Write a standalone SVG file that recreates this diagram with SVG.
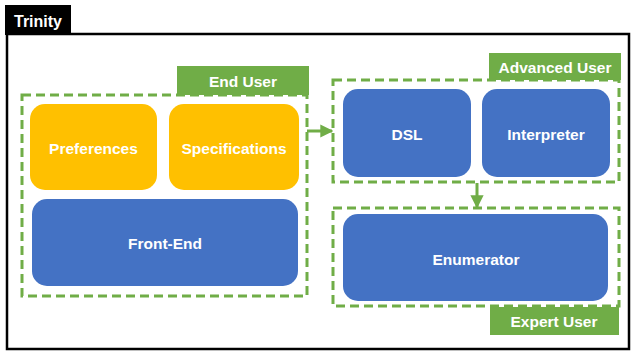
<svg xmlns="http://www.w3.org/2000/svg" width="631" height="352" viewBox="0 0 631 352">
<style>
.t{font-family:"Liberation Sans",Arial,sans-serif;font-weight:bold;fill:#fff;text-anchor:middle;dominant-baseline:central;font-size:15.5px}
.grp{fill:none;stroke:#70AD47;stroke-width:3;stroke-dasharray:9 5}
.lbl{fill:#70AD47}
.y{fill:#FFC000}
.b{fill:#4472C4}
.con{stroke:#70AD47;stroke-width:3;fill:none}
</style>
<defs>
<marker id="ah" markerWidth="4.4" markerHeight="4.4" refX="3.9" refY="2.2" orient="auto" markerUnits="strokeWidth">
<path d="M0,0 L4.4,2.2 L0,4.4 Z" fill="#70AD47"/>
</marker>
</defs>
<rect width="631" height="352" fill="#fff"/>
<g id="frame">
<rect x="7" y="34" width="622" height="315" fill="none" stroke="#000" stroke-width="2.5"/>
<rect x="5" y="5" width="66" height="30" fill="#000"/>
<text class="t" x="38" y="21" style="font-size:16px">Trinity</text>
</g>
<g id="end-user">
<rect class="grp" x="22" y="95" width="285" height="201"/>
<rect class="lbl" x="177" y="66" width="132" height="29"/>
<text class="t" x="243" y="81">End User</text>
</g>
<g id="advanced-user">
<rect class="grp" x="333" y="80" width="286" height="102"/>
<rect class="lbl" x="489" y="53" width="132" height="27"/>
<text class="t" x="555" y="67">Advanced User</text>
</g>
<g id="expert-user">
<rect class="grp" x="333" y="208" width="286" height="98"/>
<rect class="lbl" x="490" y="307" width="129" height="28"/>
<text class="t" x="554" y="321">Expert User</text>
</g>
<g id="preferences">
<rect class="y" x="30" y="104" width="127" height="86" rx="15"/>
<text class="t" x="93.5" y="148">Preferences</text>
</g>
<g id="specifications">
<rect class="y" x="169" y="104" width="130" height="86" rx="15"/>
<text class="t" x="234" y="148">Specifications</text>
</g>
<g id="front-end">
<rect class="b" x="32" y="199" width="266" height="87" rx="15"/>
<text class="t" x="165" y="243">Front-End</text>
</g>
<g id="dsl">
<rect class="b" x="343" y="89" width="128" height="88" rx="15"/>
<text class="t" x="407" y="134">DSL</text>
</g>
<g id="interpreter">
<rect class="b" x="482" y="89" width="128" height="88" rx="15"/>
<text class="t" x="546" y="134">Interpreter</text>
</g>
<g id="enumerator">
<rect class="b" x="343" y="214" width="265" height="87" rx="15"/>
<text class="t" x="476" y="259">Enumerator</text>
</g>
<g id="connectors">
<line class="con" x1="307" y1="131" x2="332" y2="131" marker-end="url(#ah)"/>
<line class="con" x1="477" y1="183" x2="477" y2="207" marker-end="url(#ah)"/>
</g>
</svg>
